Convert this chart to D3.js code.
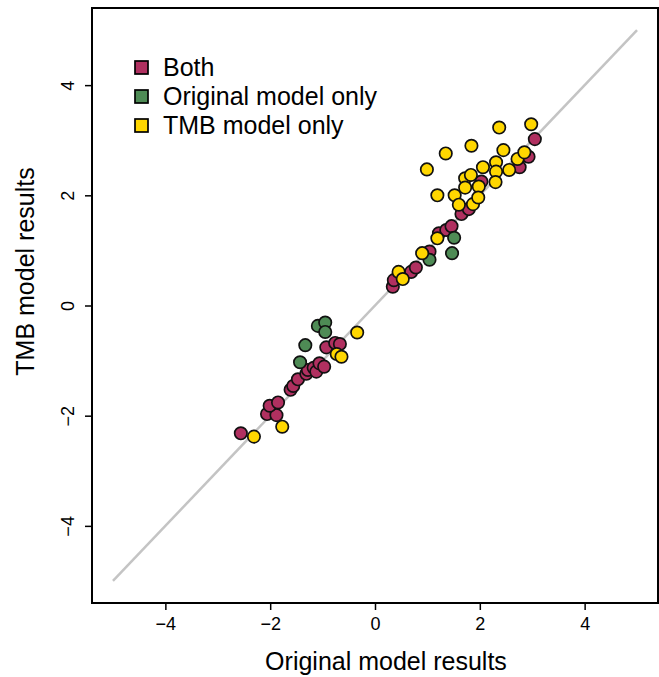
<!DOCTYPE html>
<html>
<head>
<meta charset="utf-8">
<script src="https://cdn.jsdelivr.net/npm/d3@7"></script>
<style>
  body { margin: 0; background: #fff; }
  text { font-family: "Liberation Sans", Arial, sans-serif; }
  .tick text { font-size: 18px; }
</style>
</head>
<body>
<div id="chart"></div>
<script>
var width = 659,
    height = 677;

// points found by both models
var bothX = [-2.56, -2.06, -1.88, -2.01, -1.85, -1.61, -1.56, -1.47, -1.31, -1.28, -1.17, -1.12, -1.06, -0.97, -0.93, -0.76, -0.67,
             0.34, 0.36, 0.69, 0.78, 1.04, 1.22, 1.36, 1.46, 1.65, 1.79, 2.03, 2.76, 2.93, 3.05];
var bothY = [-2.32, -1.97, -1.99, -1.82, -1.76, -1.53, -1.46, -1.34, -1.24, -1.17, -1.13, -1.20, -1.05, -1.11, -0.76, -0.68, -0.70,
             0.34, 0.46, 0.61, 0.69, 0.98, 1.31, 1.37, 1.44, 1.66, 1.75, 2.25, 2.51, 2.70, 3.02];

// original model only
var origX = [-1.43, -1.33, -1.09, -0.95, -0.95, 1.04, 1.51, 1.47];
var origY = [-1.03, -0.72, -0.37, -0.31, -0.48, 0.83, 1.23, 0.95];

// TMB model only
var tmbX = [-2.31, -1.77, -0.73, -0.64, -0.34, 0.45, 0.53, 0.90, 1.19, 0.99, 1.35, 1.84, 2.37, 2.98,
            1.19, 1.52, 1.60, 1.72, 1.83, 1.72, 1.98, 1.87, 1.97, 2.06, 2.31, 2.31, 2.30, 2.45, 2.56, 2.72, 2.85];
var tmbY = [-2.38, -2.20, -0.88, -0.93, -0.49, 0.61, 0.48, 0.95, 1.22, 2.47, 2.76, 2.90, 3.23, 3.29,
            2.00, 2.00, 1.83, 2.31, 2.37, 2.14, 2.16, 1.84, 1.96, 2.51, 2.60, 2.43, 2.24, 2.82, 2.46, 2.66, 2.78];

var ticks = [-4, -2, 0, 2, 4];
var groups = ["Both", "Original model only", "TMB model only"];
var colors = ["#B03060", "#4E8B55", "#FFD700"];

var plotL = 92, plotR = 658, plotT = 8, plotB = 603;

var svg = d3.select("#chart")
    .append("svg")
    .attr("width", width)
    .attr("height", height);

var x = d3.scaleLinear().domain([-5.4, 5.4]).range([plotL, plotR]);
var y = d3.scaleLinear().domain([-5.4, 5.4]).range([plotB, plotT]);

// 1:1 line
svg.append("line")
    .attr("x1", x(-5)).attr("y1", y(-5))
    .attr("x2", x(5)).attr("y2", y(5))
    .attr("stroke", "#C4C4C4")
    .attr("stroke-width", 2.5);

function addPoints(xs, ys, col) {
  svg.append("g").selectAll("circle")
    .data(xs.map(function(d, i){ return [d, ys[i]]; }))
    .enter().append("circle")
    .attr("cx", function(d){ return x(d[0]); })
    .attr("cy", function(d){ return y(d[1]); })
    .attr("r", 6.2)
    .attr("fill", col)
    .attr("stroke", "#111")
    .attr("stroke-width", 1.7);
}
addPoints(bothX, bothY, colors[0]);
addPoints(origX, origY, colors[1]);
addPoints(tmbX, tmbY, colors[2]);

// box
svg.append("rect")
    .attr("x", plotL).attr("y", plotT)
    .attr("width", plotR - plotL).attr("height", plotB - plotT)
    .attr("fill", "none")
    .attr("stroke", "#000")
    .attr("stroke-width", 2);

function fmt(d){ return d < 0 ? "\u2212" + Math.abs(d) : d; }

// x axis
var gx = svg.append("g")
    .attr("transform", "translate(0," + plotB + ")")
    .call(d3.axisBottom(x).tickValues(ticks).tickSize(7).tickFormat(fmt));
gx.attr("font-family", null).attr("font-size", null);
gx.select(".domain").remove();
gx.selectAll("line").attr("stroke-width", 1.5);
gx.selectAll("text").attr("y", 14).attr("dy", "0.71em");

// y axis, labels rotated
var gy = svg.append("g")
    .attr("transform", "translate(" + plotL + ",0)")
    .call(d3.axisLeft(y).tickValues(ticks).tickSize(7).tickFormat(fmt));
gy.attr("font-family", null).attr("font-size", null);
gy.select(".domain").remove();
gy.selectAll("line").attr("stroke-width", 1.5);
gy.selectAll("text")
    .attr("x", 0).attr("dy", 0)
    .attr("text-anchor", "middle")
    .attr("transform", "translate(-18,0) rotate(-90)");

// axis titles
svg.append("text")
    .attr("x", 386)
    .attr("y", 670)
    .attr("text-anchor", "middle")
    .style("font-size", "25px")
    .text("Original model results");

svg.append("text")
    .attr("transform", "translate(34," + ((plotT + plotB) / 2 - 34) + ") rotate(-90)")
    .attr("text-anchor", "middle")
    .style("font-size", "25px")
    .text("TMB model results");

// legend
var legend = svg.append("g").attr("transform", "translate(135,61)");
groups.forEach(function(gname, i){
  var row = legend.append("g").attr("transform", "translate(0," + (i * 29) + ")");
  row.append("rect")
      .attr("width", 13).attr("height", 13)
      .attr("fill", colors[i])
      .attr("stroke", "#000")
      .attr("stroke-width", 1.7);
  row.append("text")
      .attr("x", 28)
      .attr("y", 15)
      .style("font-size", "25px")
      .text(gname);
});
</script>
</body>
</html>
